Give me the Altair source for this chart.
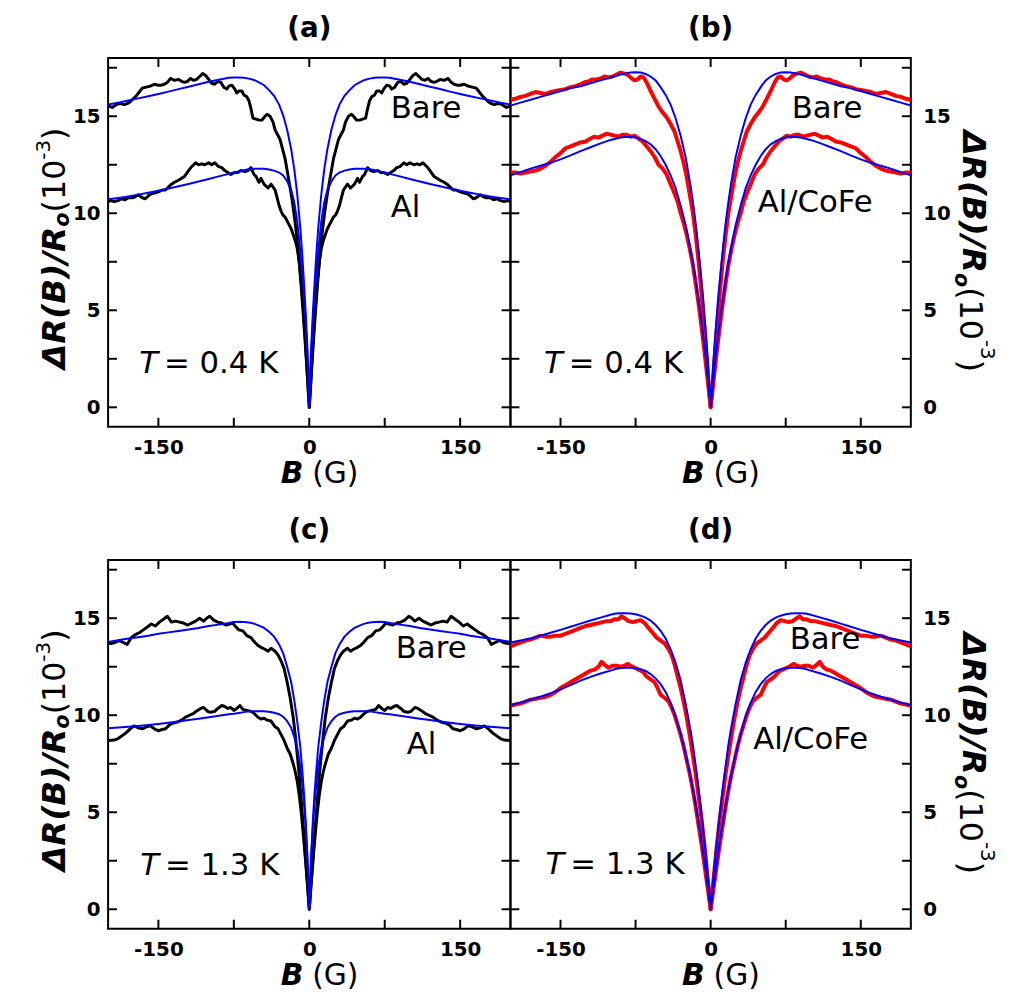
import altair as alt
import pandas as pd

# ---------------- data (positive-B half; curves are symmetric in B) ----------------
# Panel (a)  T = 0.4 K, black data
A_BARE_B = [0, 2, 4, 6, 8, 10, 12, 14, 16, 18, 20, 22, 24, 27, 29, 32, 34, 36, 39, 42, 44, 47, 50, 53, 56, 58,
            60, 62, 65, 67, 70, 72, 74, 77, 80, 82, 85, 88, 91, 94, 97, 100, 103, 106, 109, 112, 115, 118, 121,
            124, 127, 130, 134, 138, 141, 144, 147, 150, 154, 158, 162, 166, 169, 172, 175, 178, 181, 184, 187,
            190, 193, 196, 200]
A_BARE_V = [0.0, 1.7, 3.3, 4.8, 6.2, 7.5, 8.6, 9.5, 10.3, 11.0, 11.6, 12.2, 12.8, 13.4, 13.8, 14.1, 14.3, 14.7,
            15.0, 15.1, 15.0, 14.8, 14.8, 14.85, 14.9, 15.4, 15.8, 16.0, 16.1, 16.3, 16.3, 16.2, 16.4, 16.6, 16.55,
            16.4, 16.5, 16.75, 16.8, 16.65, 16.7, 16.9, 17.1, 17.2, 17.05, 16.9, 16.85, 16.95, 16.8, 16.75, 16.8,
            16.9, 16.85, 16.95, 16.75, 16.65, 16.6, 16.6, 16.65, 16.55, 16.5, 16.45, 16.25, 16.05, 15.9, 15.75,
            15.65, 15.6, 15.65, 15.65, 15.55, 15.45, 15.55]
A_AL_B = [0, 2, 4, 6, 8, 10, 12, 14, 16, 18, 20, 22, 24, 26, 28, 30, 32, 34, 38, 41, 45, 48, 50, 53, 55, 58, 61,
          64, 68, 71, 74, 78, 81, 84, 87, 90, 94, 97, 100, 104, 107, 110, 113, 117, 120, 124, 127, 130, 134, 137,
          140, 143, 146, 150, 153, 157, 160, 163, 166, 170, 173, 176, 180, 183, 187, 190, 194, 197, 200]
A_AL_V = [0.0, 1.8, 3.6, 5.2, 6.5, 7.5, 8.2, 8.6, 8.9, 9.2, 9.4, 9.6, 9.8, 9.9, 10.1, 10.4, 10.8, 11.2, 11.5,
          11.3, 11.5, 11.8, 11.6, 11.9, 12.0, 12.35, 12.2, 12.15, 12.2, 12.1, 12.1, 12.0, 12.1, 12.2, 12.35, 12.4,
          12.6, 12.5, 12.6, 12.5, 12.55, 12.5, 12.6, 12.4, 12.2, 11.9, 11.8, 11.7, 11.6, 11.5, 11.35, 11.2, 11.2,
          11.1, 11.05, 11.0, 10.9, 10.75, 10.8, 10.95, 10.85, 10.8, 10.8, 10.7, 10.75, 10.65, 10.6, 10.65, 10.6]
A_FIT_B = [0, 1, 2, 3.5, 5, 7, 9, 12, 15, 18, 22, 26, 30, 35, 40, 45, 50, 55, 60, 65, 70, 75, 80, 90, 100, 110,
           120, 130, 140, 150, 160, 170, 180, 190, 200]
A_BARE_FIT_V = [0.0, 1.8, 3.2, 4.8, 6.2, 7.9, 9.3, 11.0, 12.3, 13.3, 14.3, 15.05, 15.6, 16.05, 16.35, 16.6, 16.75,
                16.87, 16.94, 16.98, 17.0, 17.0, 16.98, 16.88, 16.78, 16.65, 16.52, 16.4, 16.27, 16.15, 16.03,
                15.92, 15.81, 15.7, 15.6]
A_AL_FIT_V = [0.0, 1.6, 2.9, 4.3, 5.6, 6.9, 8.1, 9.6, 10.6, 11.2, 11.65, 11.95, 12.1, 12.2, 12.26, 12.29, 12.3,
              12.3, 12.27, 12.22, 12.16, 12.1, 12.03, 11.9, 11.77, 11.64, 11.51, 11.39, 11.27, 11.16, 11.06,
              10.96, 10.87, 10.79, 10.72]

# Panel (b)  T = 0.4 K, red data
B_BARE_B = [0, 3, 6, 9, 12, 15, 18, 21, 24, 27, 30, 33, 36, 40, 44, 48, 52, 56, 60, 64, 67, 70, 73, 76, 79, 82,
            86, 90, 94, 98, 102, 106, 110, 114, 118, 122, 126, 130, 135, 140, 145, 150, 155, 160, 165, 170, 175,
            180, 185, 190, 195, 200]
B_BARE_V = [0.0, 1.8, 3.9, 5.8, 7.5, 8.9, 10.1, 11.0, 11.9, 12.6, 13.2, 13.7, 14.2, 14.6, 14.95, 15.2, 15.5, 15.9,
            16.3, 16.75, 17.0, 17.05, 16.9, 16.85, 16.95, 17.1, 17.2, 17.25, 17.15, 17.05, 17.0, 17.05, 16.95,
            16.9, 16.9, 16.8, 16.75, 16.65, 16.55, 16.5, 16.4, 16.35, 16.3, 16.25, 16.15, 16.2, 16.25, 16.15,
            16.05, 16.0, 15.9, 15.85]
B_AL_B = [0, 3, 6, 9, 12, 15, 18, 21, 24, 27, 30, 33, 36, 40, 44, 48, 52, 56, 60, 64, 68, 72, 76, 80, 84, 88, 92,
          96, 100, 104, 108, 112, 116, 120, 125, 130, 135, 140, 145, 150, 155, 160, 165, 170, 175, 180, 185, 190,
          195, 200]
B_AL_V = [0.0, 1.4, 2.8, 4.1, 5.3, 6.4, 7.4, 8.2, 8.9, 9.5, 10.0, 10.6, 11.0, 11.5, 12.0, 12.3, 12.5, 12.9, 13.2,
          13.45, 13.7, 13.85, 14.0, 13.95, 14.05, 14.05, 13.95, 14.0, 14.05, 14.1, 14.0, 13.9, 13.95, 13.85, 13.7,
          13.65, 13.55, 13.45, 13.35, 13.1, 12.9, 12.65, 12.45, 12.3, 12.2, 12.15, 12.1, 12.05, 12.1, 12.1]
B_FIT_B = [0, 2.5, 5, 7.5, 10, 12.5, 15, 17.5, 20, 25, 30, 35, 40, 45, 50, 55, 60, 65, 70, 75, 80, 85, 90, 100,
           110, 120, 130, 140, 150, 160, 170, 180, 190, 200]
B_BARE_FIT_V = [0.0, 2.2, 4.0, 5.6, 7.0, 8.3, 9.5, 10.5, 11.4, 12.9, 14.0, 14.9, 15.6, 16.1, 16.5, 16.85, 17.05,
                17.18, 17.25, 17.27, 17.25, 17.2, 17.15, 17.0, 16.85, 16.7, 16.55, 16.45, 16.3, 16.15, 16.0, 15.85,
                15.7, 15.55]
B_AL_FIT_V = [0.0, 1.3, 2.6, 3.7, 4.8, 5.7, 6.6, 7.4, 8.1, 9.4, 10.4, 11.3, 11.95, 12.5, 12.95, 13.3, 13.55,
              13.72, 13.83, 13.9, 13.93, 13.93, 13.9, 13.78, 13.6, 13.4, 13.2, 12.98, 12.78, 12.6, 12.45, 12.3,
              12.12, 11.96]

# Panel (c)  T = 1.3 K, black data
C_BARE_B = [0, 2, 4, 6, 8, 10, 12, 14, 16, 19, 22, 25, 28, 31, 34, 38, 41, 44, 48, 51, 54, 58, 62, 66, 70, 73,
            76, 79, 83, 87, 91, 95, 99, 102, 105, 109, 113, 117, 121, 125, 129, 133, 137, 141, 145, 149, 153, 157,
            161, 165, 169, 173, 177, 181, 185, 189, 193, 197, 200]
C_BARE_V = [0.0, 1.5, 2.9, 4.3, 5.6, 6.9, 8.0, 9.0, 9.9, 10.9, 11.7, 12.4, 12.8, 13.1, 13.3, 13.45, 13.3, 13.4,
            13.5, 13.6, 13.75, 14.0, 14.1, 14.35, 14.4, 14.55, 14.75, 14.7, 14.65, 14.75, 14.8, 14.9, 15.1, 15.0,
            14.85, 15.0, 14.85, 14.75, 14.65, 14.75, 14.8, 14.85, 14.8, 15.1, 14.95, 14.8, 14.6, 14.7, 14.55,
            14.4, 14.25, 14.15, 14.0, 13.65, 13.75, 13.85, 13.75, 13.7, 13.7]
C_AL_B = [0, 2, 4, 6, 8, 10, 12, 14, 16, 19, 22, 25, 28, 31, 34, 38, 42, 45, 48, 51, 55, 58, 62, 66, 69, 72, 75,
          78, 81, 84, 87, 91, 94, 98, 101, 105, 108, 111, 115, 119, 123, 127, 131, 135, 139, 143, 147, 150, 154,
          158, 162, 166, 170, 174, 178, 182, 186, 190, 194, 200]
C_AL_V = [0.0, 1.4, 2.7, 3.9, 5.0, 5.9, 6.6, 7.1, 7.5, 8.0, 8.3, 8.7, 9.0, 9.3, 9.4, 9.7, 9.75, 9.85, 9.8, 9.9,
          10.1, 10.2, 10.25, 10.3, 10.5, 10.35, 10.25, 10.4, 10.35, 10.45, 10.5, 10.35, 10.2, 10.15, 10.2, 10.4,
          10.35, 10.25, 10.1, 10.0, 9.9, 9.75, 9.65, 9.6, 9.5, 9.3, 9.25, 9.2, 9.3, 9.45, 9.4, 9.3, 9.35, 9.45,
          9.3, 9.1, 8.95, 8.8, 8.72, 8.7]
C_FIT_B = [0, 1, 2, 3.5, 5, 7, 9, 12, 15, 18, 22, 26, 30, 35, 40, 45, 50, 55, 60, 65, 70, 75, 80, 90, 100, 110,
           120, 130, 140, 150, 160, 170, 180, 190, 200]
C_BARE_FIT_V = [0.0, 1.6, 2.9, 4.5, 5.8, 7.2, 8.4, 9.7, 10.8, 11.7, 12.5, 13.2, 13.65, 14.05, 14.3, 14.5, 14.62,
                14.72, 14.78, 14.8, 14.82, 14.8, 14.75, 14.67, 14.6, 14.5, 14.42, 14.34, 14.27, 14.2, 14.1, 14.02,
                13.95, 13.86, 13.78]
C_AL_FIT_V = [0.0, 1.5, 2.8, 4.2, 5.3, 6.5, 7.4, 8.3, 8.9, 9.35, 9.7, 9.92, 10.05, 10.13, 10.18, 10.2, 10.2,
              10.2, 10.2, 10.16, 10.12, 10.08, 10.05, 9.97, 9.9, 9.82, 9.75, 9.68, 9.61, 9.55, 9.5, 9.45, 9.41,
              9.37, 9.33]

# Panel (d)  T = 1.3 K, red data
D_BARE_B = [0, 3, 6, 9, 12, 15, 18, 21, 24, 27, 30, 33, 36, 39, 42, 46, 50, 54, 58, 62, 66, 70, 74, 78, 82, 86,
            89, 92, 96, 100, 104, 108, 112, 116, 120, 125, 130, 135, 140, 145, 150, 155, 160, 165, 170, 175, 180,
            185, 190, 195, 200]
D_BARE_V = [0.0, 1.6, 3.2, 4.6, 5.8, 7.0, 8.0, 9.0, 9.9, 10.7, 11.4, 12.0, 12.6, 13.1, 13.4, 13.7, 13.85, 14.0,
            14.25, 14.5, 14.75, 14.9, 14.85, 14.8, 14.85, 15.0, 15.1, 14.95, 14.95, 14.85, 14.85, 14.8, 14.75,
            14.7, 14.65, 14.6, 14.5, 14.4, 14.3, 14.2, 14.1, 14.1, 14.05, 14.05, 14.1, 14.0, 13.9, 13.85, 13.75,
            13.65, 13.55]
D_AL_B = [0, 3, 6, 9, 12, 15, 18, 21, 24, 27, 30, 33, 36, 39, 42, 46, 50, 53, 56, 60, 64, 68, 72, 76, 80, 83,
          86, 90, 94, 98, 102, 106, 109, 112, 116, 120, 125, 130, 135, 140, 145, 150, 155, 160, 165, 170, 175,
          180, 185, 190, 195, 200]
D_AL_V = [0.0, 1.1, 2.2, 3.3, 4.3, 5.3, 6.2, 7.0, 7.7, 8.4, 9.0, 9.5, 10.0, 10.4, 10.7, 10.9, 11.05, 11.4, 11.7,
          11.85, 12.0, 12.25, 12.35, 12.45, 12.55, 12.65, 12.55, 12.5, 12.55, 12.55, 12.45, 12.6, 12.75, 12.5,
          12.35, 12.3, 12.15, 12.0, 11.85, 11.7, 11.55, 11.4, 11.2, 11.05, 10.95, 10.9, 10.85, 10.8, 10.7, 10.6,
          10.55, 10.5]
D_FIT_B = [0, 2.5, 5, 7.5, 10, 12.5, 15, 17.5, 20, 25, 30, 35, 40, 45, 50, 55, 60, 65, 70, 75, 80, 85, 90, 95,
           100, 110, 120, 130, 140, 150, 160, 170, 180, 190, 200]
D_BARE_FIT_V = [0.0, 1.5, 2.9, 4.1, 5.3, 6.4, 7.4, 8.4, 9.2, 10.6, 11.8, 12.7, 13.4, 13.95, 14.35, 14.65, 14.88,
                15.03, 15.13, 15.2, 15.24, 15.26, 15.26, 15.24, 15.18, 15.03, 14.88, 14.72, 14.56, 14.4, 14.25,
                14.1, 13.95, 13.85, 13.75]
D_AL_FIT_V = [0.0, 1.0, 2.0, 2.9, 3.8, 4.6, 5.4, 6.1, 6.8, 8.0, 9.05, 9.95, 10.65, 11.2, 11.6, 11.9, 12.12, 12.28,
              12.37, 12.42, 12.45, 12.45, 12.43, 12.38, 12.3, 12.15, 11.98, 11.78, 11.55, 11.33, 11.13, 10.95,
              10.8, 10.66, 10.52]

PANEL_LETTERS = ["(a)", "(b)", "(c)", "(d)"]
TEMPS = ["0.4", "0.4", "1.3", "1.3"]
X_TICK_LABELS = [-150, 0, 150]
Y_TICK_LABELS = [0, 5, 10, 15]
X_TICKS = [-150, -75, 0, 75, 150]
Y_TICKS = [0, 2.5, 5, 7.5, 10, 12.5, 15, 17.5]

# ---------------- helpers ----------------
FONT = "DejaVu Sans"
H = 372
ANN = 31
XS = alt.Scale(domain=[-200, 200], nice=False, zero=False)
YS = alt.Scale(domain=[-1, 18], nice=False, zero=False)
ONE = pd.DataFrame({"k": [0]})


def mirror(b, v):
    bb = [-x for x in reversed(b[1:])] + list(b)
    vv = list(reversed(v[1:])) + list(v)
    return bb, vv


def long_df(curves):
    rows = []
    for name, (b, v) in curves.items():
        bb, vv = mirror(b, v)
        for x, y in zip(bb, vv):
            rows.append({"B": x, "V": y, "curve": name})
    return pd.DataFrame(rows)


XAX = alt.Axis(values=X_TICK_LABELS, labelFont=FONT, labelFontWeight="bold", labelFontSize=20,
               labelColor="black", ticks=False, tickSize=0, domain=False, grid=False, labelPadding=11,
               labelExpr="'' + datum.value", labelFlush=False)


def yaxis(side):
    return alt.Axis(orient=side, values=Y_TICK_LABELS, labelFont=FONT, labelFontWeight="bold",
                    labelFontSize=20, labelColor="black", ticks=False, tickSize=0, domain=False, grid=False,
                    labelPadding=8 if side == "left" else 12)


def txt(text, x, y, size, weight="normal", style="normal", angle=0, align="left"):
    return alt.Chart(ONE).mark_text(text=text, font=FONT, fontSize=size, fontWeight=weight, fontStyle=style,
                                    angle=angle, align=align, baseline="alphabetic", color="black").encode(
        x=alt.value(x), y=alt.value(y))


W_BOLD = {"Δ": 0.774, "R": 0.770, "(": 0.457, "B": 0.762, ")": 0.457, "/": 0.365, "o": 0.687}
W_REG = {"(": 0.390, "1": 0.636, "0": 0.636, "-": 0.361, "3": 0.636, ")": 0.390}


def ytitle(side, width):
    segs = [("ΔR(B)/R", "bold", "italic", 33, 0), ("o", "bold", "italic", 21, 1),
            ("(10", "normal", "normal", 32, 0), ("-3", "normal", "normal", 20, -1),
            (")", "normal", "normal", 32, 0)]
    lens = []
    for t, w, s, size, k in segs:
        tab = W_BOLD if w == "bold" else W_REG
        lens.append(sum(tab[c] for c in t) * size)
    total = sum(lens)
    layers = []
    if side == "left":
        base = -43
        pos = 192 + total / 2
        for (t, w, s, size, k), L in zip(segs, lens):
            bx = base + (4 if k == 1 else (-16 if k == -1 else 0))
            layers.append(txt(t, bx, pos, size, w, s, angle=270))
            pos -= L
    else:
        base = width + 53
        pos = 195 - total / 2
        for (t, w, s, size, k), L in zip(segs, lens):
            bx = base + (-8 if k == 1 else (18 if k == -1 else (-3 if w == "normal" else 0)))
            layers.append(txt(t, bx, pos, size, w, s, angle=90))
            pos += L
    return layers


def panel(idx, side, width, data_curves, fit_curves, data_color, data_sw, labels):
    yax = yaxis(side)
    xe = alt.X("B:Q", scale=XS, axis=XAX, title=None)
    ye = alt.Y("V:Q", scale=YS, axis=yax, title=None)

    data_layer = alt.Chart(long_df(data_curves)).mark_line(
        color=data_color, strokeWidth=data_sw, clip=True, strokeJoin="round").encode(x=xe, y=ye, detail="curve:N")
    fit_layer = alt.Chart(long_df(fit_curves)).mark_line(
        color="#0000ff", strokeWidth=2, clip=True).encode(x=xe, y=ye, detail="curve:N")

    xt = alt.Chart(pd.DataFrame({"B": X_TICKS})).mark_rule(color="black", strokeWidth=2)
    yt = alt.Chart(pd.DataFrame({"V": Y_TICKS})).mark_rule(color="black", strokeWidth=2)
    ticks = [
        xt.encode(x=xe, y=alt.value(H), y2=alt.value(H - 9)),
        xt.encode(x=xe, y=alt.value(0), y2=alt.value(9)),
        yt.encode(y=ye, x=alt.value(0), x2=alt.value(9)),
        yt.encode(y=ye, x=alt.value(width), x2=alt.value(width - 9)),
    ]

    ann_df = pd.DataFrame(labels)
    ann = alt.Chart(ann_df.iloc[:-1]).mark_text(font=FONT, fontSize=ANN, align="left", baseline="alphabetic",
                                                color="black").encode(x=xe, y=ye, text="t:N")

    tpos = ann_df.iloc[-1]
    tlab = pd.DataFrame({"B": [tpos["B"]], "V": [tpos["V"]]})
    t_italic = alt.Chart(tlab).mark_text(text="T", font=FONT, fontSize=ANN, fontStyle="italic", align="left",
                                         baseline="alphabetic", color="black").encode(x=xe, y=ye)
    t_rest = alt.Chart(tlab).mark_text(text=" = " + TEMPS[idx] + " K", font=FONT, fontSize=ANN, align="left",
                                       baseline="alphabetic", color="black", dx=25).encode(x=xe, y=ye)

    zero = pd.DataFrame({"B": [0]})
    xt_b = alt.Chart(zero).mark_text(text="B", font=FONT, fontSize=30, fontWeight="bold", fontStyle="italic",
                                     align="right", baseline="alphabetic", color="black", dx=-6).encode(
        x=xe, y=alt.value(H + 57))
    xt_g = alt.Chart(zero).mark_text(text="(G)", font=FONT, fontSize=30, align="left", baseline="alphabetic",
                                     color="black", dx=3).encode(x=xe, y=alt.value(H + 57))

    layers = [data_layer, fit_layer] + ticks + [ann, t_italic, t_rest, xt_b, xt_g] + ytitle(side, width)
    return alt.layer(*layers).properties(
        width=width, height=H,
        title=alt.TitleParams(PANEL_LETTERS[idx], font=FONT, fontSize=28, fontWeight="bold", color="black",
                              anchor="middle", offset=14))


pa = panel(0, "left", 406,
           {"bare": (A_BARE_B, A_BARE_V), "al": (A_AL_B, A_AL_V)},
           {"bare": (A_FIT_B, A_BARE_FIT_V), "al": (A_FIT_B, A_AL_FIT_V)},
           "black", 3,
           {"B": [81, 81, -169], "V": [14.9, 9.8, 1.77], "t": ["Bare", "Al", "T"]})
pb = panel(1, "right", 404,
           {"bare": (B_BARE_B, B_BARE_V), "al": (B_AL_B, B_AL_V)},
           {"bare": (B_FIT_B, B_BARE_FIT_V), "al": (B_FIT_B, B_AL_FIT_V)},
           "#ff0000", 4,
           {"B": [81, 47, -166.5], "V": [14.9, 10.06, 1.77], "t": ["Bare", "Al/CoFe", "T"]})
pc = panel(2, "left", 406,
           {"bare": (C_BARE_B, C_BARE_V), "al": (C_AL_B, C_AL_V)},
           {"bare": (C_FIT_B, C_BARE_FIT_V), "al": (C_FIT_B, C_AL_FIT_V)},
           "black", 3,
           {"B": [86, 97, -168], "V": [12.97, 8.0, 1.75], "t": ["Bare", "Al", "T"]})
pd_ = panel(3, "right", 404,
            {"bare": (D_BARE_B, D_BARE_V), "al": (D_AL_B, D_AL_V)},
            {"bare": (D_FIT_B, D_BARE_FIT_V), "al": (D_FIT_B, D_AL_FIT_V)},
            "#ff0000", 4,
            {"B": [79, 42.5, -165], "V": [13.4, 8.24, 1.8], "t": ["Bare", "Al/CoFe", "T"]})

chart = alt.concat(pa, pb, pc, pd_, columns=2, spacing={"row": 134.5, "column": 0}, bounds="flush").properties(
    padding={"left": 24, "top": 2, "right": 5, "bottom": 5}
).configure_view(stroke="black", strokeWidth=2)

chart.save("out.html", embed_options={"renderer": "svg", "actions": False})
